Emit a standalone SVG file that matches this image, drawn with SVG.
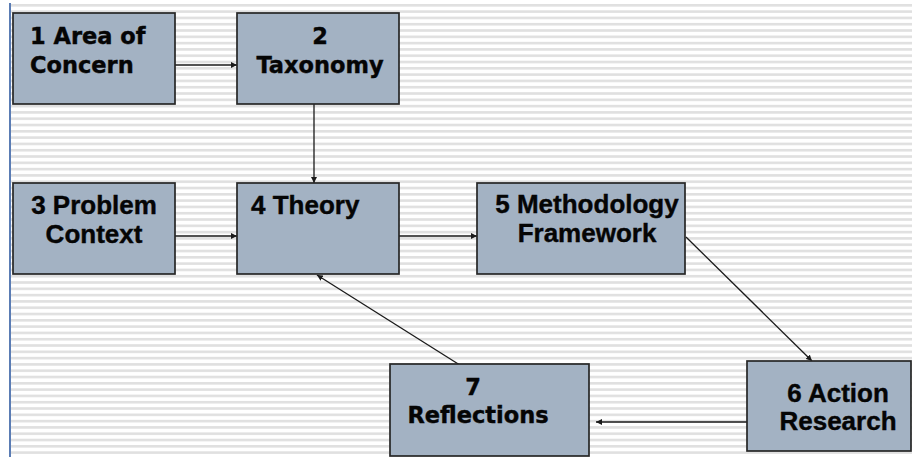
<svg xmlns="http://www.w3.org/2000/svg" width="912" height="457" viewBox="0 0 912 457">
  <defs>
    <pattern id="stripes" x="0" y="4" width="12" height="6.3" patternUnits="userSpaceOnUse">
      <rect x="0" y="0" width="12" height="6.3" fill="#ffffff"/>
      <rect x="0" y="0" width="12" height="2.6" fill="#e0e0e0"/>
    </pattern>
    <marker id="arrow" viewBox="0 0 10 10" refX="10" refY="5" markerWidth="6" markerHeight="6" orient="auto" markerUnits="userSpaceOnUse">
      <path d="M0,0 L10,5 L0,10 Z" fill="#1a1a1a"/>
    </marker>
  </defs>
  <style>
    .box { fill: #a3b2c3; stroke: #262626; stroke-width: 1.7; }
    .conn { stroke: #1a1a1a; stroke-width: 1.3; fill: none; marker-end: url(#arrow); }
    .ta { font-family: "DejaVu Sans", Verdana, sans-serif; font-weight: bold; font-size: 22.5px; fill: #050505; stroke: #050505; stroke-width: 0.4; }
    .ca { font-family: "Liberation Sans", Arial, sans-serif; font-weight: bold; font-size: 26px; fill: #050505; stroke: #050505; stroke-width: 0.4; }
    .mid { text-anchor: middle; }
  </style>

  <!-- background: white page with fine horizontal rules and a blue margin line -->
  <rect x="0" y="0" width="912" height="457" fill="#ffffff"/>
  <rect x="11" y="4" width="901" height="453" fill="url(#stripes)"/>
  <rect x="9" y="3" width="2" height="454" fill="#5a7cb4"/>

  <g id="connectors">
    <line class="conn" x1="175" y1="65" x2="237" y2="65"/>
    <line class="conn" x1="314" y1="104" x2="314" y2="183"/>
    <line class="conn" x1="175" y1="236" x2="237" y2="236"/>
    <line class="conn" x1="399" y1="236" x2="477" y2="236"/>
    <line class="conn" x1="686" y1="237" x2="812" y2="361"/>
    <line class="conn" x1="747" y1="422" x2="596" y2="422"/>
    <line class="conn" x1="463" y1="367" x2="317" y2="275"/>
  </g>

  <g id="node1">
    <rect class="box" x="13" y="13" width="162" height="91"/>
    <text class="ta" x="30" y="44">1 Area of</text>
    <text class="ta" x="30" y="73">Concern</text>
  </g>

  <g id="node2">
    <rect class="box" x="237" y="13" width="162" height="91"/>
    <text class="ta mid" x="320" y="44">2</text>
    <text class="ta mid" x="320" y="73">Taxonomy</text>
  </g>

  <g id="node3">
    <rect class="box" x="13" y="183" width="162" height="91"/>
    <text class="ca mid" x="94" y="214">3 Problem</text>
    <text class="ca mid" x="94" y="243">Context</text>
  </g>

  <g id="node4">
    <rect class="box" x="237" y="183" width="162" height="91"/>
    <text class="ca" x="251" y="214">4 Theory</text>
  </g>

  <g id="node5">
    <rect class="box" x="477" y="183" width="208" height="91"/>
    <text class="ca mid" x="587" y="213">5 Methodology</text>
    <text class="ca mid" x="587" y="242">Framework</text>
  </g>

  <g id="node6">
    <rect class="box" x="747" y="361" width="164" height="90"/>
    <text class="ca mid" x="838" y="402">6 Action</text>
    <text class="ca mid" x="838" y="430">Research</text>
  </g>

  <g id="node7">
    <rect class="box" x="390" y="364" width="199" height="92"/>
    <text class="ta mid" x="473" y="395">7</text>
    <text class="ta mid" x="478" y="423">Reflections</text>
  </g>
</svg>
